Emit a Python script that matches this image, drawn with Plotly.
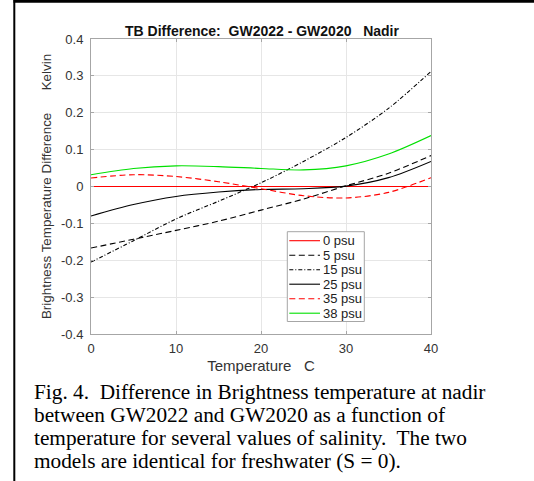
import plotly.graph_objects as go

# ---------------- data ----------------
temperature = [0, 5, 10, 15, 20, 25, 30, 35, 40]
series_names = ["0 psu", "5 psu", "15 psu", "25 psu", "35 psu", "38 psu"]
diff_0psu = [0, 0, 0, 0, 0, 0, 0, 0, 0]
diff_5psu = [-0.167, -0.143, -0.119, -0.094, -0.064, -0.034, 0.002, 0.036, 0.084]
diff_15psu = [-0.205, -0.147, -0.088, -0.040, 0.010, 0.068, 0.133, 0.212, 0.312]
diff_25psu = [-0.080, -0.049, -0.027, -0.015, -0.008, -0.006, 0.001, 0.024, 0.068]
diff_35psu = [0.023, 0.032, 0.027, 0.013, -0.006, -0.025, -0.031, -0.016, 0.024]
diff_38psu = [0.032, 0.049, 0.056, 0.054, 0.049, 0.045, 0.056, 0.088, 0.138]
x_ticks = [0, 10, 20, 30, 40]
y_ticks = [-0.4, -0.3, -0.2, -0.1, 0, 0.1, 0.2, 0.3, 0.4]
y_tick_labels = ["-0.4", "-0.3", "-0.2", "-0.1", "0", "0.1", "0.2", "0.3", "0.4"]
caption_lines = [
    "Fig. 4.\u00a0 Difference in Brightness temperature at nadir",
    "between GW2022 and GW2020 as a function of",
    "temperature for several values of salinity.\u00a0 The two",
    "models are identical for freshwater (S = 0).",
]

series_values = [diff_0psu, diff_5psu, diff_15psu, diff_25psu, diff_35psu, diff_38psu]
series_colors = ["#ff0000", "#000000", "#000000", "#000000", "#ff0000", "#00e000"]
series_dash = ["solid", "6px,3.5px", "4px,2px,1px,2px", "solid", "6px,3.5px", "solid"]

# ---------------- layout geometry ----------------
W, H = 534, 481
ML, MR, MT, MB = 91, 103, 39, 147
PW, PH = W - ML - MR, H - MT - MB


def xp(px):
    return (px - ML) / PW


def yp(py):
    return (H - MB - py) / PH


fig = go.Figure()
for name, vals, col, dash in zip(series_names, series_values, series_colors, series_dash):
    fig.add_trace(go.Scatter(
        x=temperature, y=vals, mode="lines", name=name,
        line=dict(color=col, width=1.1, dash=dash, shape="spline", smoothing=0.9),
        showlegend=False,
    ))

axis_common = dict(
    showline=True, linecolor="#a6a6a6", linewidth=1, mirror="allticks",
    ticks="inside", ticklen=3, tickcolor="#a6a6a6",
    showgrid=True, gridcolor="#e6e6e6", gridwidth=1, zeroline=False,
    tickfont=dict(family="Liberation Sans", size=13, color="#333333"),
)

fig.update_layout(
    width=W, height=H,
    margin=dict(l=ML, r=MR, t=MT, b=MB, autoexpand=False),
    paper_bgcolor="white", plot_bgcolor="white",
    title=dict(
        text="<b>TB Difference:\u00a0 GW2022 - GW2020\u00a0\u00a0 Nadir</b>",
        x=xp(262), xref="paper", xanchor="center",
        y=1 - 31.5 / H, yref="container", yanchor="middle",
        font=dict(family="Liberation Sans", size=14, color="#111111"),
    ),
    xaxis=dict(
        range=[0, 40], tickvals=x_ticks, ticklabelstandoff=2, **axis_common,
        title=dict(text="Temperature\u00a0\u00a0 C", standoff=5,
                   font=dict(family="Liberation Sans", size=15, color="#333333")),
    ),
    yaxis=dict(
        range=[-0.4, 0.4], tickvals=y_ticks, ticktext=y_tick_labels,
        ticklabelstandoff=4, **axis_common,
        title=dict(text="Brightness Temperature Difference\u00a0\u00a0\u00a0\u00a0\u00a0\u00a0Kelvin",
                   standoff=6,
                   font=dict(family="Liberation Sans", size=13.4, color="#333333")),
    ),
)

# ---------------- legend (drawn to match the compact MATLAB legend) ----------------
lg_left, lg_right, lg_top, lg_bottom = 287.3, 364.3, 231.7, 321.5
row0, row_step = 240.7, 14.5
shapes = [dict(type="rect", xref="paper", yref="paper",
               x0=xp(lg_left), x1=xp(lg_right), y0=yp(lg_bottom), y1=yp(lg_top),
               line=dict(color="#a6a6a6", width=1), fillcolor="white", layer="above")]
annotations = []
for i, (name, col, dash) in enumerate(zip(series_names, series_colors, series_dash)):
    yy = row0 + i * row_step
    shapes.append(dict(type="line", xref="paper", yref="paper",
                       x0=xp(289.3), x1=xp(320), y0=yp(yy), y1=yp(yy),
                       line=dict(color=col, width=1.1, dash=dash), layer="above"))
    annotations.append(dict(xref="paper", yref="paper", x=xp(321), y=yp(yy),
                            xanchor="left", yanchor="middle", showarrow=False, text=name,
                            font=dict(family="Liberation Sans", size=13, color="#222222")))

# ---------------- figure frame (top and left rules) ----------------
shapes.append(dict(type="line", xref="paper", yref="paper",
                   x0=xp(13.5), x1=xp(534), y0=yp(1.3), y1=yp(1.3),
                   line=dict(color="black", width=3), layer="above"))
shapes.append(dict(type="line", xref="paper", yref="paper",
                   x0=xp(14.3), x1=xp(14.3), y0=yp(0), y1=yp(481),
                   line=dict(color="black", width=2), layer="above"))

# ---------------- caption ----------------
caption_y = [392, 415, 438, 461]
for line, cy in zip(caption_lines, caption_y):
    annotations.append(dict(xref="paper", yref="paper", x=xp(32), y=yp(cy),
                            xanchor="left", yanchor="middle", showarrow=False, text=line,
                            font=dict(family="Liberation Serif", size=21.3, color="black")))

fig.update_layout(shapes=shapes, annotations=annotations)
fig.write_html("out.html",
               config={"displayModeBar": False},
               post_script="document.body.style.margin='0';document.body.style.overflow='hidden';")
